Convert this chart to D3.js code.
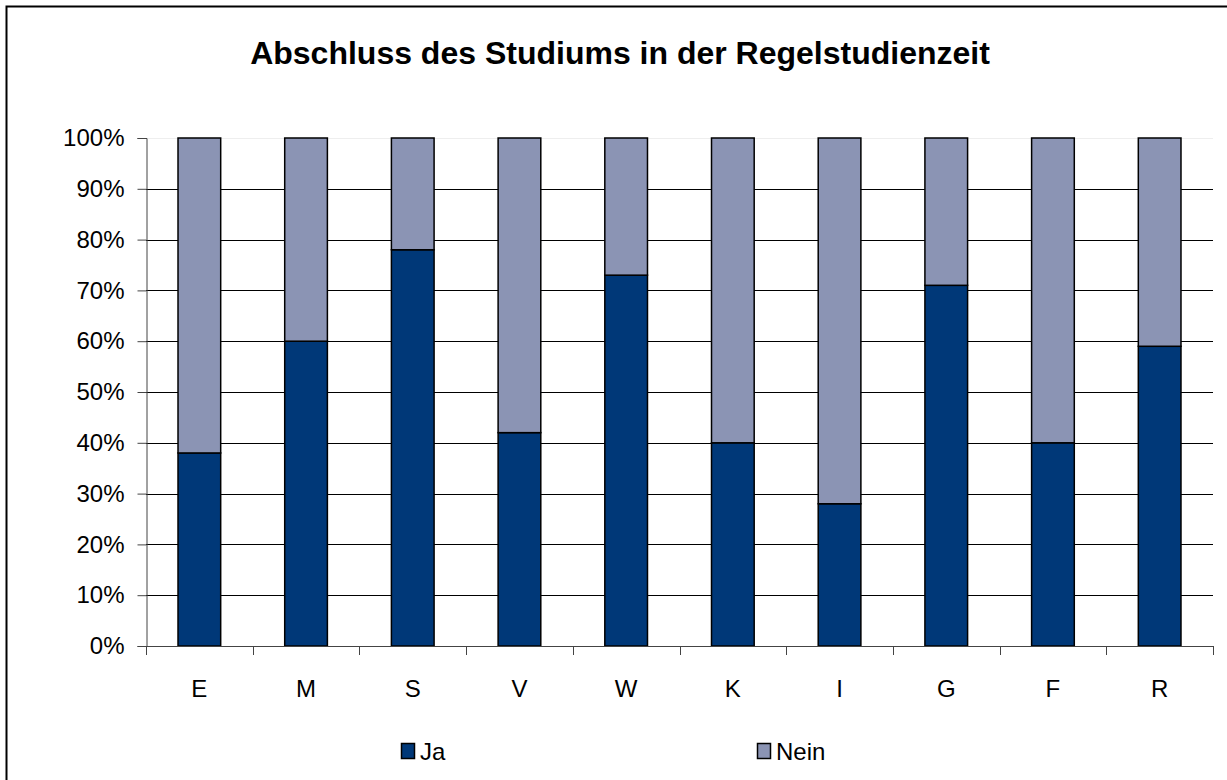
<!DOCTYPE html>
<html>
<head>
<meta charset="utf-8">
<script src="https://cdn.jsdelivr.net/npm/d3@7"></script>
<style>
  html, body { margin: 0; padding: 0; background: #fff; }
  svg { display: block; font-family: "Liberation Sans", Arial, sans-serif; }
</style>
</head>
<body>
<div id="chart"></div>
<script>
// Chart data
const categories = ['E', 'M', 'S', 'V', 'W', 'K', 'I', 'G', 'F', 'R'];
const jaValues   = [38, 60, 78, 42, 73, 40, 28, 71, 40, 59];
const neinValues = [62, 40, 22, 58, 27, 60, 72, 29, 60, 41];
const seriesNames = ['Ja', 'Nein'];
const yTicks = [0, 10, 20, 30, 40, 50, 60, 70, 80, 90, 100];

const W = 1227, H = 780;
const colors = { Ja: '#003878', Nein: '#8b94b4' };

const svg = d3.select('#chart').append('svg')
  .attr('width', W).attr('height', H);

// outer frame (cropped at right/bottom)
svg.append('rect')
  .attr('x', 6.5).attr('y', 6.5)
  .attr('width', 1400).attr('height', 1000)
  .attr('fill', 'none').attr('stroke', '#000').attr('stroke-width', 2);

// title
svg.append('text')
  .attr('x', 620).attr('y', 64)
  .attr('text-anchor', 'middle')
  .attr('font-size', '32px').attr('font-weight', 'bold')
  .text('Abschluss des Studiums in der Regelstudienzeit');

const plot = { left: 146, right: 1213, top: 138, bottom: 646 };

const x = d3.scaleBand()
  .domain(categories)
  .range([plot.left, plot.right])
  .paddingInner(0.6).paddingOuter(0.3);

const y = d3.scaleLinear()
  .domain([0, 100])
  .range([plot.bottom, plot.top]);

// gridlines
svg.append('g').selectAll('line')
  .data(yTicks.filter(t => t > 0))
  .join('line')
  .attr('x1', plot.left).attr('x2', plot.right)
  .attr('y1', d => Math.round(y(d)) + 0.5).attr('y2', d => Math.round(y(d)) + 0.5)
  .attr('stroke', d => d === 100 ? '#eee' : '#000')
  .attr('stroke-width', 1);

// stacked bars
const table = categories.map((c, i) => ({ cat: c, Ja: jaValues[i], Nein: neinValues[i] }));
const stack = d3.stack().keys(seriesNames)(table);

svg.append('g').selectAll('g')
  .data(stack)
  .join('g')
  .attr('fill', d => colors[d.key])
  .selectAll('rect')
  .data(d => d)
  .join('rect')
  .attr('x', d => x(d.data.cat))
  .attr('y', d => y(d[1]))
  .attr('width', x.bandwidth())
  .attr('height', d => y(d[0]) - y(d[1]))
  .attr('stroke', '#000').attr('stroke-width', 1.5);

// y axis
const yAxis = d3.axisLeft(y)
  .tickValues(yTicks)
  .tickFormat(d => d + '%')
  .tickSize(9).tickPadding(13);

const yg = svg.append('g')
  .attr('transform', `translate(${plot.left + 0.5},0)`)
  .call(yAxis);
yg.select('.domain').attr('stroke', '#444');
yg.selectAll('.tick line').attr('stroke', '#444');
yg.selectAll('.tick text')
  .attr('font-size', '24px').attr('fill', '#000')
  .attr('font-family', '"Liberation Sans", Arial, sans-serif');

// x axis: line plus ticks between categories
const xg = svg.append('g');
xg.append('line')
  .attr('x1', plot.left).attr('x2', plot.right)
  .attr('y1', plot.bottom + 0.5).attr('y2', plot.bottom + 0.5)
  .attr('stroke', '#444');
const tickXs = categories.map((c, i) => plot.left + i * x.step()).concat([plot.right]);
xg.selectAll('line.tk')
  .data(tickXs)
  .join('line')
  .attr('class', 'tk')
  .attr('x1', d => Math.round(d) + 0.5).attr('x2', d => Math.round(d) + 0.5)
  .attr('y1', plot.bottom).attr('y2', plot.bottom + 9)
  .attr('stroke', '#444');
xg.selectAll('text')
  .data(categories)
  .join('text')
  .attr('x', d => x(d) + x.bandwidth() / 2)
  .attr('y', 697)
  .attr('text-anchor', 'middle')
  .attr('font-size', '24px')
  .text(d => d);

// legend
const legendX = [401, 757];
const lg = svg.append('g').selectAll('g')
  .data(seriesNames)
  .join('g')
  .attr('transform', (d, i) => `translate(${legendX[i]},743)`);
lg.append('rect')
  .attr('x', 0.5).attr('y', 0.5)
  .attr('width', 13).attr('height', 15)
  .attr('fill', d => colors[d])
  .attr('stroke', '#000').attr('stroke-width', 1.5);
lg.append('text')
  .attr('x', 19).attr('y', 16.5)
  .attr('font-size', '24px')
  .text(d => d);
</script>
</body>
</html>
